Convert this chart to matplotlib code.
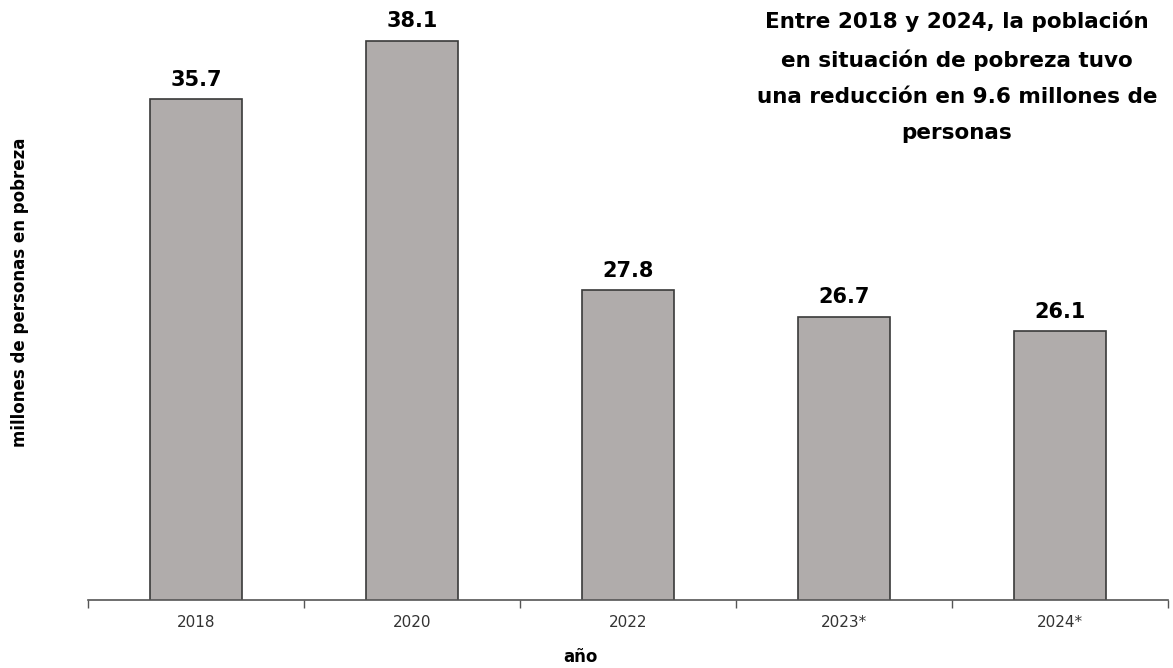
import matplotlib.pyplot as plt

years = ["2018", "2020", "2022", "2023*", "2024*"]
pobreza = [35.7, 38.1, 27.8, 26.7, 26.1]
nota = ("Entre 2018 y 2024, la población\nen situación de pobreza tuvo\n"
        "una reducción en 9.6 millones de\npersonas")

plt.rcParams["font.family"] = ["DejaVu Sans"]

fig = plt.figure(figsize=(11.73, 6.68), dpi=100)
ax = fig.add_axes([88 / 1173, 68 / 668, 1080 / 1173, 600 / 668])

x = range(len(years))
ax.bar(x, pobreza, width=0.43, color="#b0acab", edgecolor="#3a3a3a", linewidth=1.2)

for xi, v in zip(x, pobreza):
    ax.text(xi, v + 0.4, f"{v}", ha="center", va="bottom", fontsize=15, fontweight="bold")

ax.set_xlim(-0.5, len(years) - 0.5)
ax.set_ylim(15, 39.8)

ax.set_xticks([i - 0.5 for i in range(len(years) + 1)])
ax.set_xticklabels([])
ax.set_xticks(list(x), minor=True)
ax.set_xticklabels(years, minor=True, fontsize=11, color="#333333")
ax.tick_params(axis="x", which="major", length=6, width=1, color="#555555", direction="out")
ax.tick_params(axis="x", which="minor", length=0, pad=11)
ax.set_yticks([])

for s in ["top", "right", "left"]:
    ax.spines[s].set_visible(False)
ax.spines["bottom"].set_color("#555555")
ax.spines["bottom"].set_linewidth(1.2)

fig.text(20 / 1173, 1 - 292 / 668, "millones de personas en pobreza", rotation=90,
         ha="center", va="center", fontsize=12, fontweight="bold")
fig.text(580 / 1173, 1 - 657 / 668, "año", ha="center", va="center", fontsize=12, fontweight="bold")

fig.text(957 / 1173, 1 - 11 / 668, nota, ha="center", va="top", fontsize=15.5, fontweight="bold",
         linespacing=1.98)

fig.savefig("out.png", dpi=100)
